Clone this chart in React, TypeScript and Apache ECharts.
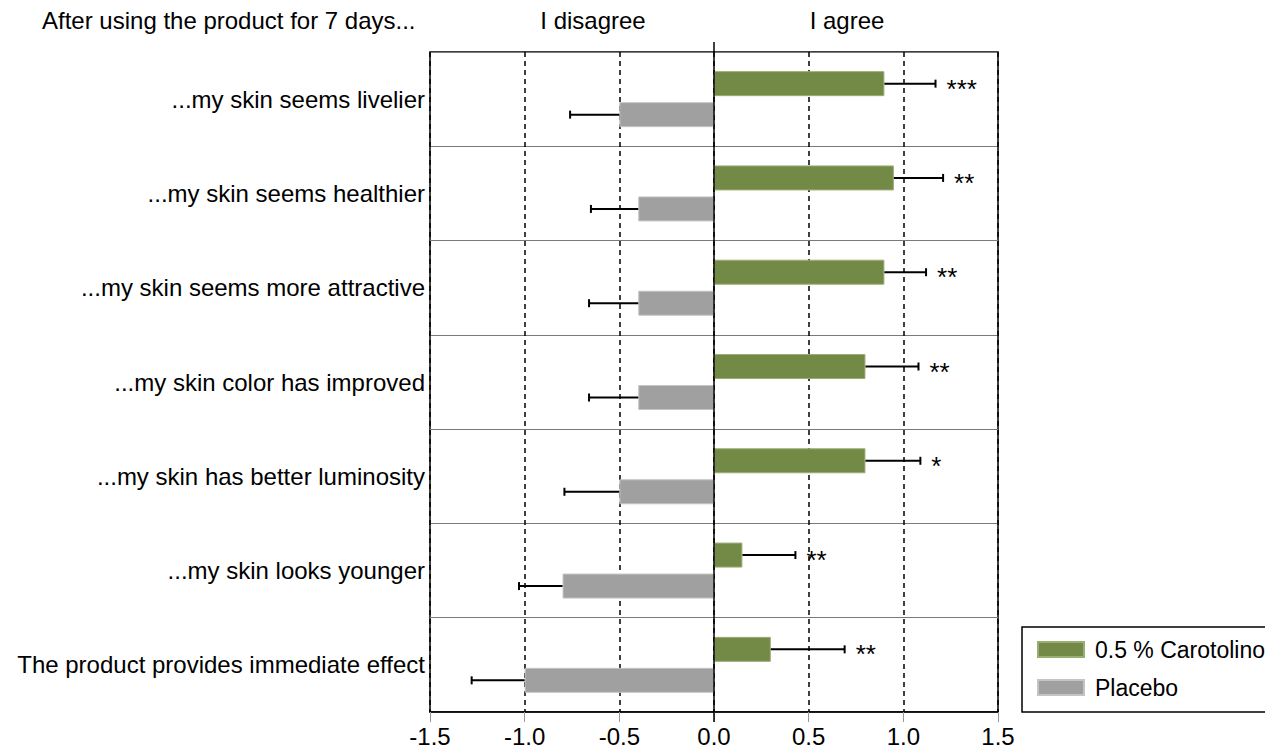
import React, { useEffect, useRef } from "react";
import * as echarts from "echarts";

const categories = [
  "...my skin seems livelier",
  "...my skin seems healthier",
  "...my skin seems more attractive",
  "...my skin color has improved",
  "...my skin has better luminosity",
  "...my skin looks younger",
  "The product provides immediate effect",
];
const carotolinoValues = [0.9, 0.95, 0.9, 0.8, 0.8, 0.15, 0.3];
const carotolinoErrEnd = [1.17, 1.21, 1.12, 1.08, 1.09, 0.43, 0.69];
const placeboValues = [-0.5, -0.4, -0.4, -0.4, -0.5, -0.8, -1.0];
const placeboErrEnd = [-0.76, -0.65, -0.66, -0.66, -0.79, -1.03, -1.28];
const significance = ["***", "**", "**", "**", "*", "**", "**"];
const seriesNames = ["0.5 % Carotolino", "Placebo"];
const headerTitle = "After using the product for 7 days...";
const headerDisagree = "I disagree";
const headerAgree = "I agree";

const FONT = "'Liberation Sans', Arial, sans-serif";
const GREEN = "#738a46";
const GRAY = "#a0a0a0";
const BAR_W = 25;
const BAR_GAP = 6;

function errorSeries(values: number[], errs: number[], offsetSign: number, stars: string[] | null) {
  return {
    type: "custom",
    z: 5,
    encode: { x: [1, 2], y: 0 },
    data: values.map((v, i) => [i, v, errs[i]]),
    renderItem: (params: any, api: any) => {
      const cat = api.value(0);
      const v = api.value(1);
      const e = api.value(2);
      const s = api.coord([v, cat]);
      const t = api.coord([e, cat]);
      const y = s[1] + offsetSign * (BAR_W + BAR_GAP) / 2;
      const children: any[] = [
        { type: "line", shape: { x1: s[0], y1: y, x2: t[0], y2: y }, style: { stroke: "#000", lineWidth: 2 } },
        { type: "line", shape: { x1: t[0], y1: y - 4, x2: t[0], y2: y + 4 }, style: { stroke: "#000", lineWidth: 2 } },
      ];
      if (stars) {
        children.push({
          type: "text",
          x: t[0] + 11,
          y: y + 5,
          style: { text: stars[params.dataIndex], font: `26px ${FONT}`, fill: "#000", verticalAlign: "middle", align: "left" },
        });
      }
      return { type: "group", children };
    },
  };
}

export default function App() {
  const ref = useRef<HTMLDivElement>(null);
  useEffect(() => {
    if (!ref.current) return;
    const chart = echarts.init(ref.current, undefined, { renderer: "svg" });
    chart.setOption({
      animation: false,
      backgroundColor: "#fff",
      textStyle: { fontFamily: FONT },
      grid: {
        left: 430,
        right: 267,
        top: 52,
        bottom: 44,
        show: true,
        borderColor: "#000",
        borderWidth: 1.5,
        backgroundColor: "transparent",
      },
      legend: {
        orient: "vertical",
        left: 1022,
        top: 627,
        data: seriesNames,
        icon: "rect",
        itemWidth: 46,
        itemHeight: 15,
        itemGap: 15,
        padding: [11, 15, 13, 15],
        borderColor: "#000",
        borderWidth: 1.5,
        textStyle: { fontSize: 23, color: "#000", fontFamily: FONT, padding: [0, 0, 0, 6] },
      },
      xAxis: {
        type: "value",
        min: -1.5,
        max: 1.5,
        interval: 0.5,
        axisLine: { show: true, lineStyle: { color: "#000", width: 1.5 } },
        axisTick: { show: true, length: 10, lineStyle: { color: "#999", width: 1 } },
        axisLabel: {
          fontSize: 24,
          color: "#000",
          fontFamily: FONT,
          margin: 12,
          formatter: (v: number) => v.toFixed(1),
        },
        splitLine: { show: true, lineStyle: { color: "#000", type: [5, 4], width: 1.5 } },
      },
      yAxis: {
        type: "category",
        inverse: true,
        data: categories,
        axisLine: { show: false },
        axisTick: { show: false },
        axisLabel: { fontSize: 24, color: "#000", fontFamily: FONT, margin: 5 },
        splitLine: { show: true, lineStyle: { color: "#7a7a7a", width: 1 } },
      },
      graphic: [
        { type: "text", x: 42, y: 20, style: { text: headerTitle, font: `24px ${FONT}`, fill: "#000", align: "left", verticalAlign: "middle" } },
        { type: "text", x: 593, y: 20, style: { text: headerDisagree, font: `24px ${FONT}`, fill: "#000", align: "center", verticalAlign: "middle" } },
        { type: "text", x: 847, y: 20, style: { text: headerAgree, font: `24px ${FONT}`, fill: "#000", align: "center", verticalAlign: "middle" } },
      ],
      series: [
        {
          name: seriesNames[0],
          type: "bar",
          data: carotolinoValues,
          barWidth: BAR_W,
          barGap: `${(BAR_GAP / BAR_W) * 100}%`,
          itemStyle: { color: GREEN, borderColor: "#9aae73", borderWidth: 1 },
        },
        {
          name: seriesNames[1],
          type: "bar",
          data: placeboValues,
          barWidth: BAR_W,
          itemStyle: { color: GRAY, borderColor: "#c4c4c4", borderWidth: 1 },
        },
        errorSeries(carotolinoValues, carotolinoErrEnd, -1, significance),
        errorSeries(placeboValues, placeboErrEnd, 1, null),
        {
          type: "custom",
          z: 6,
          data: [[0]],
          encode: { x: 0 },
          renderItem: (params: any, api: any) => {
            const cs = params.coordSys;
            const p = api.coord([api.value(0), 0]);
            return {
              type: "line",
              shape: { x1: p[0], y1: cs.y - 10, x2: p[0], y2: cs.y + cs.height + 10 },
              style: { stroke: "#000", lineWidth: 1.5 },
            };
          },
        },
      ],
    });
    return () => chart.dispose();
  }, []);
  return <div ref={ref} style={{ position: "fixed", left: 0, top: 0, width: 1265, height: 756 }} />;
}
